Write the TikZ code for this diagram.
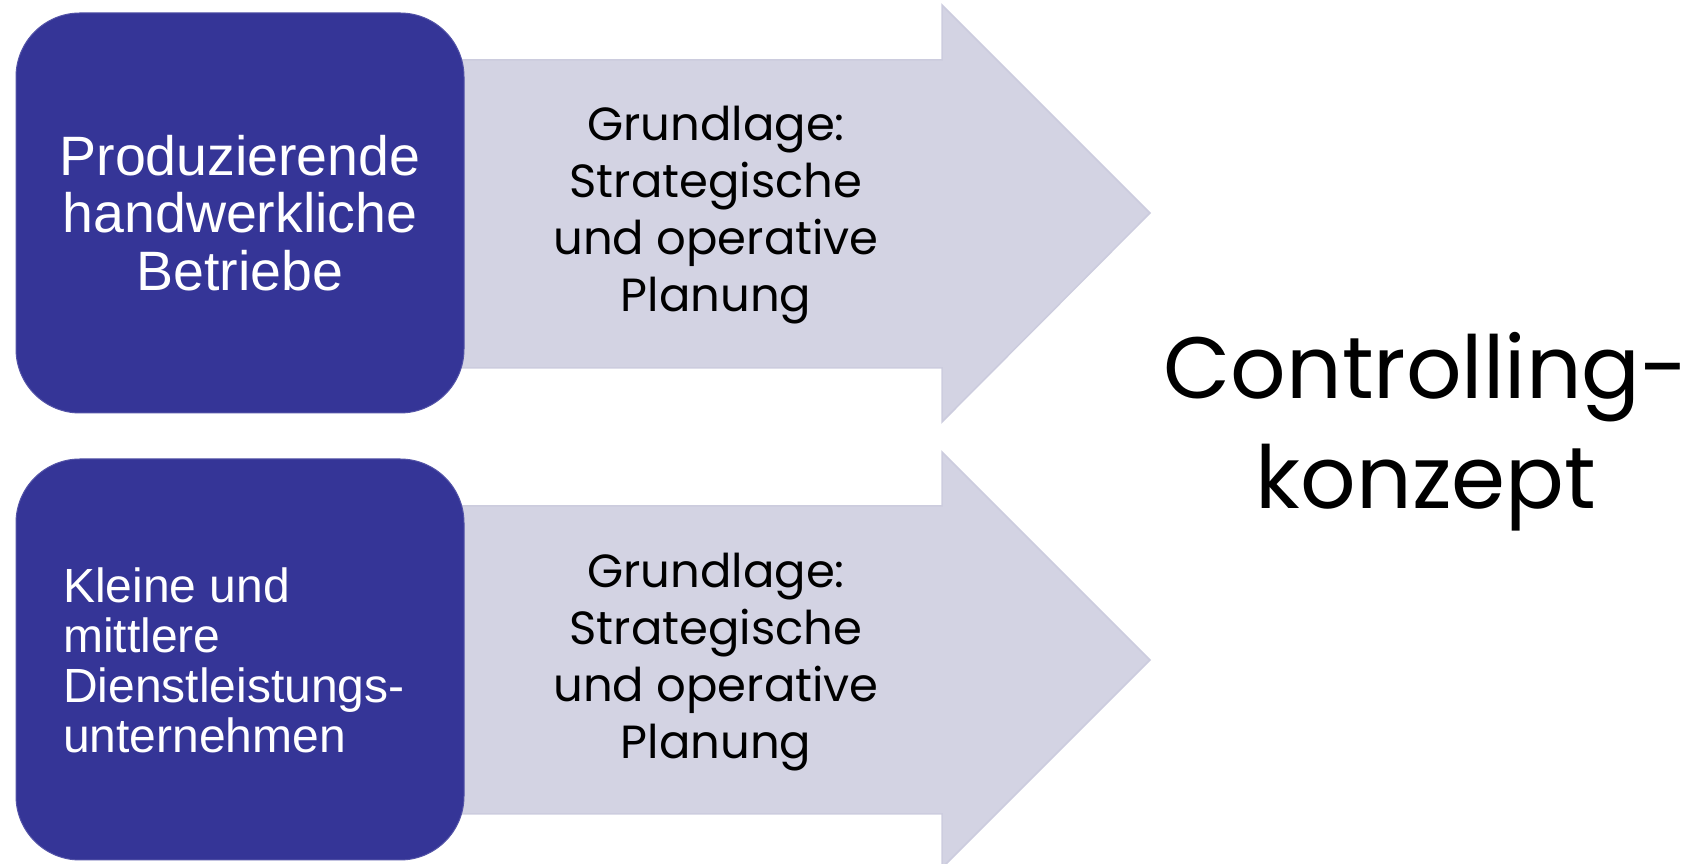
\documentclass[tikz,border=0pt]{standalone}
\usepackage{fontspec}
\setmainfont{Liberation Sans}
\newfontfamily\gothic{Poppins}
\definecolor{boxblue}{RGB}{53,53,151}
\definecolor{arrowfill}{RGB}{211,211,227}
\definecolor{arrowline}{RGB}{204,204,222}
\begin{document}
\begin{tikzpicture}[x=1pt,y=1pt,
  bluebox/.style={fill=boxblue,draw=boxblue!85!white,line width=1pt,rounded corners=64pt},
  bigarrow/.style={fill=arrowfill,draw=arrowline,line width=1.5pt,line join=miter},
  boxtext/.style={text=white,inner sep=0pt},
  arrowtext/.style={font=\gothic\fontsize{46.5}{57}\selectfont,align=center,inner sep=0pt},
  conctext/.style={font=\gothic\fontsize{87}{110}\selectfont,align=center,inner sep=0pt}]
\useasboundingbox (0,0) rectangle (1702,864);
% arrows
\draw[bigarrow] (450,804) -- (942,804) -- (942,859) -- (1150,651) -- (942,442) -- (942,496) -- (450,496) -- cycle;
\draw[bigarrow] (450,358) -- (942,358) -- (942,412) -- (1150,204) -- (942,-4) -- (942,50) -- (450,50) -- cycle;
% boxes
\draw[bluebox] (16,451) rectangle (464,851);
\draw[bluebox] (16,4) rectangle (464,405);
\coordinate (b1) at (240,651);
\coordinate (b2w) at (63,204);
% texts
\node[boxtext,align=center,font=\fontsize{55.5}{57.5}\selectfont] (t1) at (b1) {Produzierende\\handwerkliche\\Betriebe};
\node[boxtext,align=left,anchor=west,font=\fontsize{48}{50}\selectfont] (t2) at (b2w) {Kleine und\\mittlere\\Dienstleistungs-\\unternehmen};
\node[arrowtext] (a1) at (716,649) {Grundlage:\\Strategische\\und operative\\Planung};
\node[arrowtext] (a2) at (716,202) {Grundlage:\\Strategische\\und operative\\Planung};
\node[conctext] (c) at (1426,432) {Controlling-\\konzept};
\end{tikzpicture}
\end{document}
